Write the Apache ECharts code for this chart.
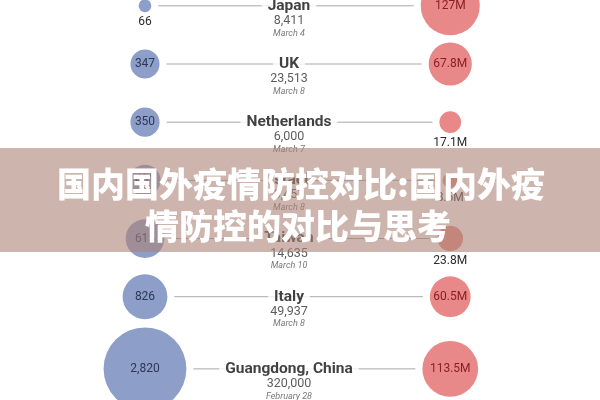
<!DOCTYPE html>
<html>
<head>
<meta charset="utf-8">
<script src="https://cdn.jsdelivr.net/npm/echarts@6/dist/echarts.min.js"></script>
<style>
html,body{margin:0;padding:0;background:#fff;}
#c{width:600px;height:400px;}
</style>
</head>
<body>
<div id="c"></div>
<script>
// ---- data ----
const places = ['Japan', 'UK', 'Netherlands', 'Israel', 'Taiwan', 'Italy', 'Guangdong, China'];
const testsPerMillion = [66, 347, 350, 401, 615, 826, 2820];
const testsTotal = [8411, 23513, 6000, 3451, 14635, 49937, 320000];
const testDates = ['March 4', 'March 8', 'March 7', 'March 8', 'March 10', 'March 8', 'February 28'];
const populationM = [127, 67.8, 17.1, 8.6, 23.8, 60.5, 113.5];
const titleLines = ['国内国外疫情防控对比:国内外疫', '情防控的对比与思考'];

// ---- layout ----
const COL_LEFT = 0, COL_MID = 1, COL_RIGHT = 2.12;
const GAP = 7;
const rowPos = i => i + (i === places.length - 1 ? 0.24 : 0);
const leftDiam = v => 2 * 0.78 * Math.sqrt(v);
const rightDiam = v => 2 * 2.62 * Math.sqrt(v);
const fmt = v => v.toLocaleString('en-US');

const lineSeries = places.map((p, i) => ({
  type: 'line', silent: true, symbol: 'none', z: 1,
  lineStyle: { color: '#a8a8a8', width: 1 },
  data: [[COL_LEFT, rowPos(i)], [COL_RIGHT, rowPos(i)]]
}));

function circleItem(x, i, d, text, inColor) {
  const small = d < 28;
  return {
    value: [x, rowPos(i)],
    symbolSize: d,
    label: small ? {
      show: true, position: 'bottom', distance: 4, formatter: text,
      color: '#2a2a2a', fontSize: 12, fontFamily: 'Roboto'
    } : {
      show: true, position: 'inside', formatter: text,
      color: inColor, fontSize: 12, fontFamily: 'Roboto'
    }
  };
}
function haloItem(x, i, d) {
  return { value: [x, rowPos(i)], symbolSize: d + 2 * GAP };
}

const leftData = testsPerMillion.map((v, i) => circleItem(COL_LEFT, i, leftDiam(v), fmt(v), '#2b3857'));
const rightData = populationM.map((v, i) => circleItem(COL_RIGHT, i, rightDiam(v), v + 'M', '#8a1f22'));
const haloData = testsPerMillion.map((v, i) => haloItem(COL_LEFT, i, leftDiam(v)))
  .concat(populationM.map((v, i) => haloItem(COL_RIGHT, i, rightDiam(v))));

const midData = places.map((p, i) => ({
  value: [COL_MID, rowPos(i)],
  label: {
    show: true, position: 'inside', offset: [0, 12.5],
    formatter: '{n|' + p + '}\n{v|' + fmt(testsTotal[i]) + '}\n{d|' + testDates[i] + '}'
  }
}));

const titleFont = { fill: '#ffffff', fontSize: 34, fontWeight: 900,
  fontFamily: '"Noto Sans CJK SC", sans-serif', textAlign: 'center', textVerticalAlign: 'middle',
  shadowColor: 'rgba(60,30,20,0.35)', shadowBlur: 3 };

const chart = echarts.init(document.getElementById('c'), null, { renderer: 'canvas' });
chart.setOption({
  backgroundColor: '#ffffff',
  animation: false,
  grid: { left: 0, right: 0, top: 0, height: 384 },
  xAxis: { type: 'value', min: -1.007, max: 3.16, show: false },
  yAxis: { type: 'value', inverse: true, min: -0.1, max: 6.5, show: false },
  graphic: [
    {
      type: 'rect', z: 50, silent: true,
      shape: { x: 0, y: 148, width: 600, height: 104 },
      style: { fill: 'rgba(172,132,118,0.6)' }
    },
    {
      type: 'text', z: 60, silent: true, x: 301, y: 184,
      style: Object.assign({ text: titleLines[0] }, titleFont)
    },
    {
      type: 'text', z: 60, silent: true, x: 298, y: 226,
      style: Object.assign({ text: titleLines[1] }, titleFont)
    }
  ],
  series: lineSeries.concat([
    {
      type: 'scatter', z: 1.5, symbol: 'circle', data: haloData, silent: true,
      itemStyle: { color: '#ffffff', opacity: 1 }
    },
    {
      type: 'scatter', z: 2, symbol: 'circle', data: leftData,
      itemStyle: { color: '#8d9ec8', opacity: 1 }
    },
    {
      type: 'scatter', z: 2, symbol: 'circle', data: rightData,
      itemStyle: { color: '#e98888', opacity: 1 }
    },
    {
      type: 'scatter', z: 3, symbolSize: 1, data: midData,
      itemStyle: { color: 'rgba(0,0,0,0)' },
      label: {
        rich: {
          n: { fontFamily: 'Roboto', fontWeight: 'bold', fontSize: 15.5, color: '#111', lineHeight: 17,
               backgroundColor: '#ffffff', padding: [0, 6] },
          v: { fontFamily: 'Roboto', fontSize: 12.5, color: '#333', lineHeight: 13 },
          d: { fontFamily: 'Roboto', fontStyle: 'italic', fontSize: 9, color: '#555', lineHeight: 12 }
        }
      }
    }
  ])
});
</script>
</body>
</html>
